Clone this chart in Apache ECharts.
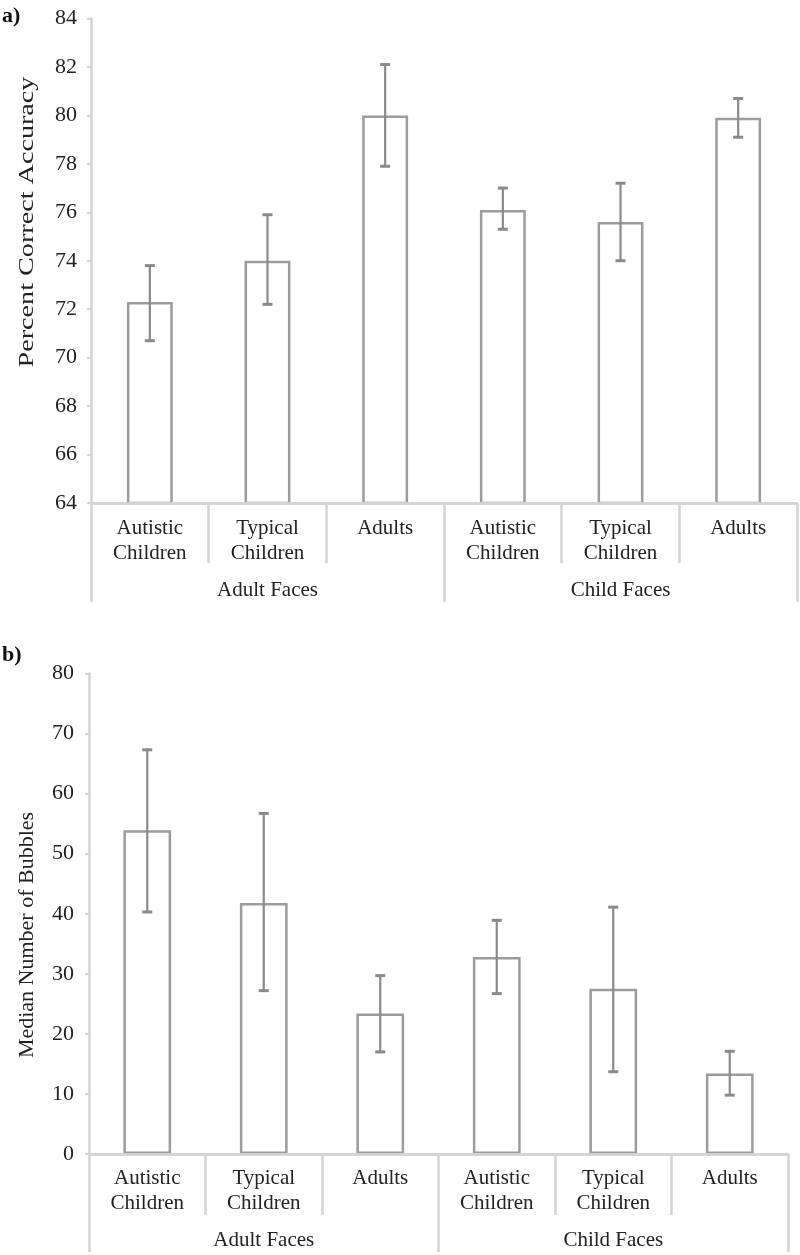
<!DOCTYPE html>
<html>
<head>
<meta charset="utf-8">
<script src="https://cdn.jsdelivr.net/npm/echarts@6/dist/echarts.min.js"></script>
<style>
  html, body { margin: 0; padding: 0; background: #fff; }
  #chart { width: 800px; height: 1255px; }
</style>
</head>
<body>
<div id="chart"></div>
<script>
// ---- data ----
const groupLabels = ['Autistic\nChildren', 'Typical\nChildren', 'Adults', 'Autistic\nChildren', 'Typical\nChildren', 'Adults'];
const faceGroups = ['Adult Faces', 'Child Faces'];

const accuracyMean = [72.3, 74.0, 80.0, 76.1, 75.6, 79.9];
const accuracyLow  = [70.7, 72.2, 77.9, 75.3, 74.0, 79.1];
const accuracyHigh = [73.8, 75.9, 82.1, 77.0, 77.2, 80.7];

const bubblesMedian = [53.9, 41.8, 23.4, 32.8, 27.5, 13.4];
const bubblesLow    = [40.3, 27.2, 17.0, 26.7, 13.7, 9.8];
const bubblesHigh   = [67.3, 56.7, 29.7, 38.9, 41.1, 17.1];

const accuracyTicks = { min: 64, max: 84, interval: 2 };
const bubblesTicks = { min: 0, max: 80, interval: 10 };

// ---- styles ----
const FONT = "'Liberation Serif', 'DejaVu Serif', serif";
const AXIS_COLOR = '#d4d4d4';
const BAR_BORDER = '#9c9c9c';
const ERR_COLOR = '#8a8a8a';
const TEXT = '#222';

function errData(low, high) {
  return low.map((l, i) => [i, l, high[i]]);
}

function renderErr(params, api) {
  const x = api.value(0);
  const lo = api.coord([x, api.value(1)]);
  const hi = api.coord([x, api.value(2)]);
  const cap = 5;
  const style = { stroke: ERR_COLOR, lineWidth: 2.2 };
  return {
    type: 'group',
    children: [
      { type: 'line', shape: { x1: lo[0], y1: lo[1], x2: hi[0], y2: hi[1] }, style },
      { type: 'line', shape: { x1: hi[0] - cap, y1: hi[1], x2: hi[0] + cap, y2: hi[1] }, style: { stroke: ERR_COLOR, lineWidth: 3 } },
      { type: 'line', shape: { x1: lo[0] - cap, y1: lo[1], x2: lo[0] + cap, y2: lo[1] }, style: { stroke: ERR_COLOR, lineWidth: 3 } }
    ]
  };
}

function catAxis(gridIndex, margin, tickLen) {
  return {
    type: 'category', gridIndex, position: 'bottom', data: groupLabels, z: 10,
    axisLine: { show: true, lineStyle: { color: AXIS_COLOR, width: 2.5 } },
    axisTick: { show: true, interval: 0, length: tickLen, lineStyle: { color: AXIS_COLOR, width: 2.5 } },
    axisLabel: { interval: 0, margin, fontFamily: FONT, fontSize: 21, lineHeight: 25, color: TEXT },
    splitLine: { show: false }
  };
}
function groupAxis(gridIndex, margin, tickLen) {
  return {
    type: 'category', gridIndex, position: 'bottom', offset: 0, data: faceGroups, z: 10,
    axisLine: { show: true, lineStyle: { color: AXIS_COLOR, width: 2.5 } },
    axisTick: { show: true, interval: 0, length: tickLen, lineStyle: { color: AXIS_COLOR, width: 2.5 } },
    axisLabel: { interval: 0, margin, fontFamily: FONT, fontSize: 21, color: TEXT },
    splitLine: { show: false }
  };
}
function valAxis(gridIndex, t, margin) {
  return {
    type: 'value', gridIndex, min: t.min, max: t.max, interval: t.interval,
    axisLine: { show: true, lineStyle: { color: AXIS_COLOR, width: 2.5 } },
    axisTick: { show: true, length: 4, lineStyle: { color: AXIS_COLOR, width: 2 } },
    axisLabel: { margin, fontFamily: FONT, fontSize: 22, color: TEXT },
    splitLine: { show: false }
  };
}

const barStyle = { color: '#ffffff', borderColor: BAR_BORDER, borderWidth: 2.5 };

const option = {
  backgroundColor: '#ffffff',
  animation: false,
  grid: [
    { left: 91, top: 18.5, right: 3, height: 484.5, outerBoundsMode: 'none', containLabel: false },
    { left: 89, top: 673.5, right: 12, height: 480.5, outerBoundsMode: 'none', containLabel: false }
  ],
  xAxis: [
    catAxis(0, 13, 60),
    groupAxis(0, 77, 99),
    catAxis(1, 12, 61),
    groupAxis(1, 76, 98)
  ],
  yAxis: [
    valAxis(0, accuracyTicks, 14),
    valAxis(1, bubblesTicks, 15)
  ],
  series: [
    { type: 'bar', xAxisIndex: 0, yAxisIndex: 0, data: accuracyMean, barWidth: '39%', itemStyle: barStyle, silent: true },
    { type: 'custom', xAxisIndex: 0, yAxisIndex: 0, data: errData(accuracyLow, accuracyHigh), renderItem: renderErr, encode: { x: 0, y: [1, 2] }, z: 5, silent: true },
    { type: 'bar', xAxisIndex: 2, yAxisIndex: 1, data: bubblesMedian, barWidth: '41%', itemStyle: barStyle, silent: true },
    { type: 'custom', xAxisIndex: 2, yAxisIndex: 1, data: errData(bubblesLow, bubblesHigh), renderItem: renderErr, encode: { x: 0, y: [1, 2] }, z: 5, silent: true }
  ],
  graphic: [
    { type: 'text', x: 2, y: 5, style: { text: 'a)', fontFamily: FONT, fontSize: 22, fontWeight: 'bold', fill: '#111' } },
    { type: 'text', x: 2, y: 644, style: { text: 'b)', fontFamily: FONT, fontSize: 22, fontWeight: 'bold', fill: '#111' } },
    { type: 'text', x: 27, y: 222, rotation: Math.PI / 2, scaleX: 1.28,
      style: { text: 'Percent Correct Accuracy', fontFamily: FONT, fontSize: 22, fill: TEXT, align: 'center', verticalAlign: 'middle' } },
    { type: 'text', x: 27, y: 935, rotation: Math.PI / 2,
      style: { text: 'Median Number of Bubbles', fontFamily: FONT, fontSize: 22, fill: TEXT, align: 'center', verticalAlign: 'middle' } }
  ]
};

const chart = echarts.init(document.getElementById('chart'), null, { renderer: 'canvas' });
chart.setOption(option);
</script>
</body>
</html>
